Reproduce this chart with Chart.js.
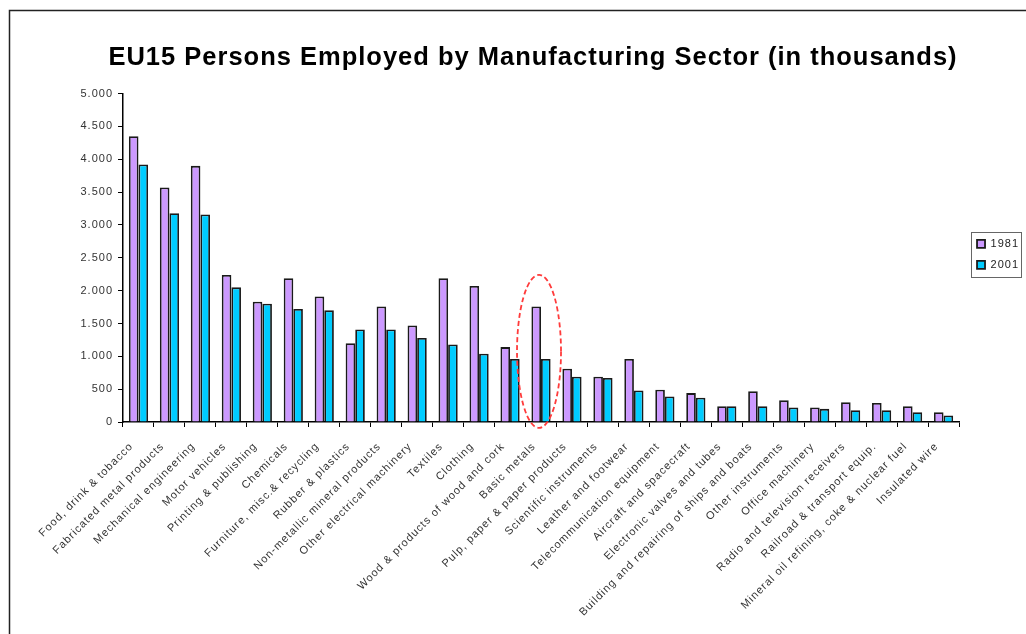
<!DOCTYPE html>
<html>
<head>
<meta charset="utf-8">
<title>EU15 Persons Employed by Manufacturing Sector</title>
<script src="https://cdn.jsdelivr.net/npm/chart.js@4.4.1/dist/chart.umd.min.js"></script>
<style>
  html, body { margin: 0; padding: 0; background: #fff; }
  #wrap { width: 1026px; height: 634px; }
</style>
</head>
<body>
<div id="wrap"><canvas id="sectorChart" width="1026" height="634"></canvas></div>
<script>
/* EU15 employment by manufacturing sector, 1981 vs 2001 (thousands) */
const SECTORS = [
    'Food, drink & tobacco', 'Fabricated metal products', 'Mechanical engineering', 'Motor vehicles',
    'Printing & publishing', 'Chemicals', 'Furniture, misc.& recycling', 'Rubber & plastics',
    'Non-metallic mineral products', 'Other electrical machinery', 'Textiles', 'Clothing',
    'Wood & products of wood and cork', 'Basic metals', 'Pulp, paper & paper products',
    'Scientific instruments', 'Leather and footwear', 'Telecommunication equipment',
    'Aircraft and spacecraft', 'Electronic valves and tubes', 'Building and repairing of ships and boats',
    'Other instruments', 'Office machinery', 'Radio and television receivers',
    'Railroad & transport equip.', 'Mineral oil refining, coke & nuclear fuel', 'Insulated wire'
];
const YEARS = ['1981', '2001'];
const EMPLOYED_1981 = [4350, 3570, 3900, 2240, 1830, 2190, 1910, 1200, 1760, 1470, 2190, 2070, 1140, 1760,
    810, 690, 960, 490, 440, 240, 470, 330, 220, 300, 290, 240, 150];
const EMPLOYED_2001 = [3920, 3180, 3160, 2050, 1800, 1720, 1700, 1410, 1410, 1280, 1180, 1040, 960, 960,
    690, 670, 480, 390, 370, 240, 240, 220, 200, 180, 180, 150, 100];
const Y_MAX = 5000;
const Y_STEP = 500;

// dashed ring drawn round one sector, spanning these values
const RING_SECTOR = 'Basic metals';
const RING_TOP = 2240;
const RING_BOTTOM = -90;

const COLORS = { y1981: '#cc99ff', y2001: '#00ccff', edge: '#1a1a1a', text: '#333', ring: '#ff3b3b' };

Chart.defaults.font.family = "'Liberation Sans', Arial, sans-serif";

// 4500 -> 4.500
const fmt = v => String(v).replace(/\B(?=(\d{3})+(?!\d))/g, '.');

// wider letter spacing on all canvas text
const spacing = {
    id: 'spacing',
    beforeLayout(c) { c.ctx.letterSpacing = '1px'; },
    beforeDraw(c) { c.ctx.letterSpacing = '1px'; }
};

// shift legend a bit and put a frame round it
const legendFrame = {
    id: 'legendFrame',
    afterLayout(c) {
        const l = c.legend;
        l.left += 8; l.right += 8;
        l.top -= 3.5; l.bottom -= 3.5;
    },
    afterDraw(c) {
        const hb = c.legend.legendHitBoxes;
        if (!hb || !hb.length) return;
        const a = hb[0], b = hb[hb.length - 1];
        const ctx = c.ctx;
        const x0 = Math.round(a.left - 6) + 0.5, y0 = Math.round(a.top - 6.5) + 0.5;
        const x1 = Math.round(a.left + a.width + 2) + 0.5, y1 = Math.round(b.top + b.height + 6.5) + 0.5;
        ctx.save();
        ctx.strokeStyle = '#666';
        ctx.lineWidth = 1;
        ctx.strokeRect(x0, y0, x1 - x0, y1 - y0);
        ctx.restore();
    }
};

// page frame (top and left rule)
const pageFrame = {
    id: 'pageFrame',
    afterDraw(c) {
        const ctx = c.ctx;
        ctx.save();
        ctx.strokeStyle = '#222';
        ctx.lineWidth = 1.5;
        ctx.beginPath();
        ctx.moveTo(c.width, 10.5);
        ctx.lineTo(9.5, 10.5);
        ctx.lineTo(9.5, c.height);
        ctx.stroke();
        ctx.restore();
    }
};

const ring = {
    id: 'ring',
    afterDatasetsDraw(c) {
        const { x, y } = c.scales;
        const cx = x.getPixelForValue(SECTORS.indexOf(RING_SECTOR)) - 2;
        const top = y.getPixelForValue(RING_TOP), bottom = y.getPixelForValue(RING_BOTTOM);
        const ctx = c.ctx;
        ctx.save();
        ctx.beginPath();
        ctx.ellipse(cx, (top + bottom) / 2, 22, (bottom - top) / 2, 0, 0, Math.PI * 2);
        ctx.setLineDash([5, 3]);
        ctx.strokeStyle = COLORS.ring;
        ctx.lineWidth = 1.8;
        ctx.stroke();
        ctx.restore();
    }
};

const axisGrid = { drawOnChartArea: false, drawTicks: true, tickLength: 5, color: '#000', lineWidth: 1 };
const axisBorder = { color: '#000', width: 1.5 };

new Chart(document.getElementById('sectorChart'), {
    type: 'bar',
    data: {
        labels: SECTORS,
        datasets: [
            { label: YEARS[0], data: EMPLOYED_1981, backgroundColor: COLORS.y1981, borderColor: COLORS.edge, borderWidth: 1.8 },
            { label: YEARS[1], data: EMPLOYED_2001, backgroundColor: COLORS.y2001, borderColor: COLORS.edge, borderWidth: 1.8 }
        ]
    },
    options: {
        responsive: false,
        animation: false,
        layout: { padding: { left: 45, right: 5, top: 11, bottom: 0 } },
        datasets: { bar: { categoryPercentage: 0.62, barPercentage: 1 } },
        plugins: {
            title: {
                display: true,
                text: 'EU15 Persons Employed by Manufacturing Sector (in thousands)',
                color: '#000',
                font: { size: 25.5, weight: 'bold' },
                padding: { top: 32, bottom: 20 }
            },
            legend: {
                position: 'right',
                fullSize: false,
                maxWidth: 62,
                labels: { boxWidth: 8, boxHeight: 8, padding: 10, color: '#222', font: { size: 11 } }
            },
            tooltip: { enabled: false }
        },
        scales: {
            x: {
                grid: axisGrid,
                border: axisBorder,
                ticks: { autoSkip: false, minRotation: 45, maxRotation: 45, padding: 13, labelOffset: -7, color: COLORS.text, font: { size: 11 } },
                afterFit: s => { s.height = 212; }
            },
            y: {
                min: 0,
                max: Y_MAX,
                grid: axisGrid,
                border: axisBorder,
                ticks: { stepSize: Y_STEP, padding: 5, color: COLORS.text, font: { size: 11 }, callback: v => fmt(v) },
                afterFit: s => { s.width = 78; }
            }
        }
    },
    plugins: [spacing, ring, legendFrame, pageFrame]
});
</script>
</body>
</html>
